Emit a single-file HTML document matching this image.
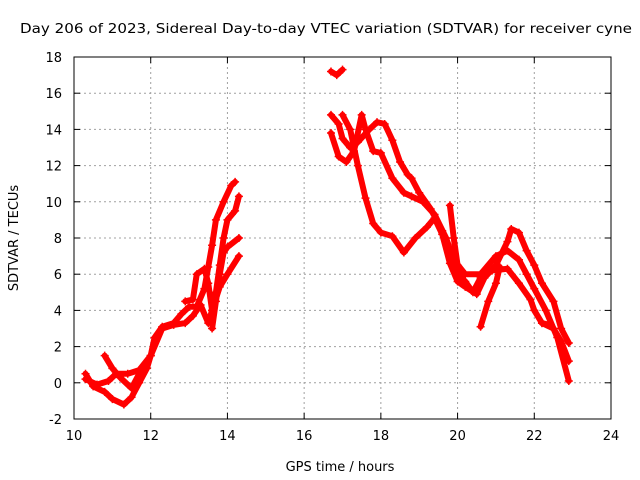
<!DOCTYPE html>
<html><head><meta charset="utf-8"><style>
body{margin:0;background:#fff}
svg{display:block;font-family:"DejaVu Sans","Liberation Sans",sans-serif}
</style></head><body>
<svg id="chart" width="640" height="480">
<rect width="640" height="480" fill="#fff"/>
<text x="326" y="33" font-size="13" text-anchor="middle" textLength="612" lengthAdjust="spacingAndGlyphs">Day 206 of 2023, Sidereal Day-to-day VTEC variation (SDTVAR) for receiver cyne</text>
<g id="grid"></g>
<g id="axes"></g>
<g id="series"></g>
<text x="340" y="471" font-size="13" text-anchor="middle">GPS time / hours</text>
<text transform="translate(18,238) rotate(-90)" font-size="13" text-anchor="middle">SDTVAR / TECUs</text>
</svg>
<script>
const xTicks=[10,12,14,16,18,20,22,24];
const yTicks=[-2,0,2,4,6,8,10,12,14,16,18];
const traceA=[[10.3,0.5],[10.5,-0.2],[10.8,-0.5],[11.0,-0.9],[11.3,-1.2],[11.5,-0.8],[11.7,0],[11.9,0.8],[12.0,1.5],[12.1,2.5],[12.3,3.1],[12.6,3.3],[12.8,3.8],[13.0,4.2],[13.2,4.2],[13.4,5.2],[13.5,6.4],[13.6,7.6],[13.7,9.0],[13.9,10],[14.1,10.9],[14.2,11.1]];
const traceB=[[10.3,0.2],[10.6,-0.1],[10.9,0.1],[11.1,0.5],[11.4,0.5],[11.7,0.7],[12.0,1.5],[12.3,3.0],[12.6,3.2],[12.9,3.3],[13.1,3.7],[13.3,4.3],[13.5,3.3],[13.6,4],[13.8,5.3],[14.0,6.0],[14.3,7.0]];
const traceC=[[10.8,1.5],[11.0,0.8],[11.2,0.3],[11.5,-0.3],[11.7,0.5],[12.0,1.5]];
const traceD=[[12.9,4.5],[13.1,4.6],[13.2,6],[13.4,6.3],[13.5,5.5],[13.6,4.0],[13.7,5.0],[13.8,6.5],[13.9,8],[14.0,9],[14.2,9.5],[14.3,10.3]];
const traceE=[[13.6,3.0],[13.7,4.5],[13.8,6],[13.9,7.2],[14.0,7.5],[14.3,8.0]];
const traceF=[[16.7,14.8],[16.9,14.3],[17.0,13.5],[17.2,13],[17.4,13.3],[17.7,14.0],[17.9,14.4],[18.1,14.3],[18.3,13.4],[18.5,12.2],[18.7,11.5],[18.8,11.3],[19.0,10.5],[19.3,9.6],[19.6,8.4],[19.8,7.3],[20.0,6.0],[20.2,5.6],[20.4,5.0],[20.6,5.8],[20.9,6.2],[21.3,6.3],[21.6,5.5],[21.9,4.6],[22.0,4],[22.2,3.3],[22.4,3.2]];
const traceG=[[16.7,13.8],[16.9,12.5],[17.1,12.2],[17.3,12.8],[17.5,14.8],[17.6,14.0],[17.8,12.8],[18.0,12.7],[18.3,11.3],[18.6,10.5],[18.8,10.3],[19.1,10],[19.4,9.3],[19.7,8.0],[19.9,6.8],[20.2,6.0],[20.6,6.0],[21.0,7.0],[21.3,7.3],[21.6,6.8],[21.8,6],[22.0,5.2],[22.3,4],[22.6,2.5],[22.9,0.1]];
const traceH=[[17.0,14.8],[17.2,14.0],[17.4,12],[17.6,10.2],[17.8,8.8],[18.0,8.3],[18.3,8.1],[18.6,7.2],[18.9,8.0],[19.2,8.6],[19.4,9.1],[19.6,8.2],[19.8,6.6],[20.0,5.6],[20.2,5.3],[20.5,4.9],[20.7,5.8],[21.0,6.5],[21.3,7.8],[21.4,8.5],[21.6,8.3],[21.8,7.3],[22.0,6.5],[22.2,5.5],[22.5,4.5],[22.7,3.0],[22.9,2.2]];
const traceI=[[19.8,9.8],[19.9,8],[20.0,6.5],[20.1,5.5]];
const traceJ=[[20.6,3.1],[20.8,4.5],[21.0,5.5],[21.1,6.4]];
const traceK=[[22.2,3.3],[22.5,3],[22.7,2.3],[22.9,1.2]];
const traceL=[[16.7,17.2],[16.85,17.0],[17.0,17.3]];
const traces=[traceA,traceB,traceC,traceD,traceE,traceF,traceG,traceH,traceI,traceJ,traceK,traceL];

const X0=74,X1=611,Y0=419,Y1=57;
const xs=h=>X0+(h-10)/(24-10)*(X1-X0);
const ys=v=>Y0-(v+2)/(18+2)*(Y0-Y1);
const NS="http://www.w3.org/2000/svg";
function mk(tag,attrs,parent){const e=document.createElementNS(NS,tag);for(const k in attrs)e.setAttribute(k,attrs[k]);parent.appendChild(e);return e;}
const grid=document.getElementById('grid'),axes=document.getElementById('axes'),ser=document.getElementById('series');
xTicks.forEach(t=>{
  const x=xs(t);
  if(t>10&&t<24){const l=mk('line',{x1:x,x2:x,y1:Y1,y2:Y0,stroke:'#a0a0a0','stroke-dasharray':'2,3'},grid);
  
  }
  mk('line',{x1:x,x2:x,y1:Y0,y2:Y0-6,stroke:'#000'},axes);
  mk('line',{x1:x,x2:x,y1:Y1,y2:Y1+6,stroke:'#000'},axes);
  const tx=mk('text',{x:x,y:Y0+21,'font-size':13,'text-anchor':'middle'},axes);tx.textContent=t;
  
  
});
yTicks.forEach(t=>{
  const y=ys(t);
  if(t>-2&&t<18){const l=mk('line',{x1:X0,x2:X1,y1:y,y2:y,stroke:'#a0a0a0','stroke-dasharray':'2,3'},grid);
  
  }
  mk('line',{x1:X0,x2:X0+6,y1:y,y2:y,stroke:'#000'},axes);
  mk('line',{x1:X1,x2:X1-6,y1:y,y2:y,stroke:'#000'},axes);
  const tx=mk('text',{x:X0-12,y:y+5,'font-size':13,'text-anchor':'end'},axes);tx.textContent=t;
  
  
});
const frame=mk('rect',{x:X0,y:Y1,width:X1-X0,height:Y0-Y1,fill:'none',stroke:'#000'},axes);


traces.forEach(tr=>{
  const pl=mk('polyline',{points:tr.map(p=>xs(p[0])+','+ys(p[1])).join(' '),fill:'none',stroke:'#ff0000','stroke-width':6,'stroke-linejoin':'round','stroke-linecap':'round'},ser);
  
  
  tr.forEach(p=>{
    const x=xs(p[0]),y=ys(p[1]);
    const m=mk('path',{d:`M${x-4},${y}H${x+4}M${x},${y-4}V${y+4}`,stroke:'#ff0000','stroke-width':1.5},ser);
    
    
  });
});
</script>
</body></html>
